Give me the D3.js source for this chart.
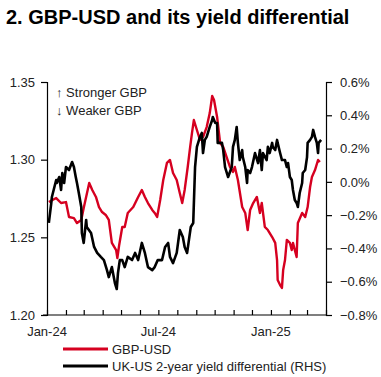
<!DOCTYPE html>
<html><head><meta charset="utf-8">
<script src="https://cdn.jsdelivr.net/npm/d3@7"></script>
<style>body{margin:0;background:#fff}svg{display:block;font-family:"Liberation Sans",Arial,sans-serif}</style>
</head><body><svg id="c" width="381" height="377"></svg>
<script>
const title = "2. GBP-USD and its yield differential";
const leftTicks = [1.20, 1.25, 1.30, 1.35];
const rightTicks = [-0.8, -0.6, -0.4, -0.2, 0.0, 0.2, 0.4, 0.6];
const xLabels = [["2024-01-01","Jan-24"],["2024-07-01","Jul-24"],["2025-01-01","Jan-25"]];
const seriesNames = ["GBP-USD", "UK-US 2-year yield differential (RHS)"];

const gbpDates = ["2024-01-04","2024-01-16","2024-01-24","2024-02-01","2024-02-06","2024-02-14","2024-02-19","2024-02-26","2024-03-01","2024-03-10","2024-03-15","2024-03-21","2024-03-26","2024-03-31","2024-04-06","2024-04-11","2024-04-16","2024-04-23","2024-04-25","2024-04-28","2024-05-03","2024-05-07","2024-05-12","2024-05-21","2024-05-29","2024-06-04","2024-06-09","2024-06-14","2024-06-21","2024-06-25","2024-06-29","2024-07-04","2024-07-09","2024-07-15","2024-07-20","2024-07-25","2024-07-31","2024-08-05","2024-08-09","2024-08-13","2024-08-18","2024-08-22","2024-08-25","2024-08-28","2024-09-02","2024-09-07","2024-09-12","2024-09-18","2024-09-23","2024-09-27","2024-09-30","2024-10-05","2024-10-10","2024-10-15","2024-10-21","2024-10-26","2024-10-31","2024-11-03","2024-11-08","2024-11-15","2024-11-20","2024-11-24","2024-11-28","2024-12-03","2024-12-09","2024-12-14","2024-12-17","2024-12-22","2024-12-27","2025-01-03","2025-01-08","2025-01-11","2025-01-12","2025-01-16","2025-01-19","2025-01-21","2025-01-24","2025-01-27","2025-02-01","2025-02-04","2025-02-06","2025-02-12","2025-02-14","2025-02-21","2025-02-26","2025-03-02","2025-03-06","2025-03-09","2025-03-14","2025-03-19","2025-03-22"];
const gbpValues = [1.2727,1.2753,1.2721,1.2727,1.2631,1.2624,1.2592,1.2612,1.2689,1.2850,1.2805,1.2760,1.2695,1.2663,1.2644,1.2612,1.2464,1.2418,1.2367,1.2451,1.2567,1.2567,1.2657,1.2695,1.2760,1.2805,1.2760,1.2721,1.2676,1.2657,1.2631,1.2740,1.2869,1.2979,1.2998,1.2914,1.2869,1.2785,1.2721,1.2805,1.2953,1.3082,1.3172,1.3255,1.3191,1.3127,1.3146,1.3210,1.3300,1.3410,1.3384,1.3275,1.3107,1.3082,1.3011,1.2953,1.2921,1.2953,1.2869,1.2695,1.2657,1.2547,1.2676,1.2721,1.2760,1.2657,1.2721,1.2567,1.2547,1.2502,1.2464,1.2354,1.2225,1.2193,1.2174,1.2290,1.2354,1.2483,1.2464,1.2418,1.2464,1.2373,1.2592,1.2657,1.2631,1.2695,1.2824,1.2888,1.2933,1.2998,1.2985];

const ydDates = ["2024-01-04","2024-01-08","2024-01-09","2024-01-16","2024-01-17","2024-01-21","2024-01-24","2024-01-26","2024-01-29","2024-02-01","2024-02-06","2024-02-11","2024-02-14","2024-02-17","2024-02-19","2024-02-22","2024-02-26","2024-02-27","2024-03-01","2024-03-05","2024-03-06","2024-03-13","2024-03-18","2024-03-23","2024-03-29","2024-04-03","2024-04-08","2024-04-11","2024-04-16","2024-04-21","2024-04-24","2024-04-26","2024-04-29","2024-05-03","2024-05-07","2024-05-12","2024-05-19","2024-05-24","2024-05-29","2024-06-04","2024-06-09","2024-06-14","2024-06-21","2024-06-25","2024-06-30","2024-07-07","2024-07-12","2024-07-17","2024-07-20","2024-07-25","2024-07-31","2024-08-05","2024-08-10","2024-08-13","2024-08-17","2024-08-20","2024-08-23","2024-08-27","2024-08-30","2024-09-02","2024-09-04","2024-09-07","2024-09-10","2024-09-12","2024-09-15","2024-09-18","2024-09-20","2024-09-23","2024-09-27","2024-09-28","2024-10-02","2024-10-05","2024-10-06","2024-10-13","2024-10-15","2024-10-18","2024-10-21","2024-10-23","2024-10-29","2024-10-31","2024-11-03","2024-11-06","2024-11-08","2024-11-11","2024-11-15","2024-11-16","2024-11-20","2024-11-23","2024-11-24","2024-11-28","2024-12-01","2024-12-06","2024-12-11","2024-12-14","2024-12-17","2024-12-19","2024-12-25","2024-12-27","2024-12-30","2025-01-03","2025-01-04","2025-01-08","2025-01-11","2025-01-12","2025-01-16","2025-01-19","2025-01-24","2025-01-27","2025-01-29","2025-02-01","2025-02-04","2025-02-06","2025-02-09","2025-02-12","2025-02-14","2025-02-17","2025-02-21","2025-02-22","2025-02-26","2025-03-01","2025-03-02","2025-03-06","2025-03-09","2025-03-11","2025-03-14","2025-03-17","2025-03-19","2025-03-20","2025-03-24"];
const ydValues = [-0.247,-0.127,-0.091,0.011,-0.007,0.029,-0.049,0.053,-0.007,0.089,0.071,0.119,0.089,0.029,-0.007,-0.067,-0.151,-0.307,-0.367,-0.229,-0.271,-0.307,-0.391,-0.427,-0.451,-0.470,-0.530,-0.572,-0.512,-0.608,-0.644,-0.548,-0.470,-0.470,-0.512,-0.451,-0.470,-0.427,-0.470,-0.367,-0.427,-0.512,-0.530,-0.512,-0.470,-0.470,-0.391,-0.367,-0.451,-0.488,-0.427,-0.289,-0.331,-0.391,-0.427,-0.349,-0.271,-0.247,0.089,0.210,0.234,0.270,0.294,0.173,0.252,0.270,0.294,0.330,0.372,0.390,0.354,0.354,0.234,0.234,0.191,0.089,0.053,0.029,0.089,0.210,0.252,0.330,0.234,0.131,0.191,0.149,0.089,-0.007,0.071,0.053,0.089,0.173,0.113,0.191,0.071,0.173,0.131,0.210,0.173,0.234,0.210,0.191,0.252,0.234,0.173,0.131,0.131,0.089,0.113,0.029,0.011,-0.049,-0.109,-0.127,-0.151,-0.067,-0.007,0.053,0.071,0.149,0.234,0.252,0.270,0.312,0.270,0.234,0.173,0.234,0.252];

const parse = d3.timeParse("%Y-%m-%d");
const svg = d3.select("#c");
const L = 47, R = 326, T = 82, B = 315;

const x = d3.scaleTime().domain([parse("2024-01-01"), parse("2025-04-01")]).range([L, R]);
const yL = d3.scaleLinear().domain([1.20, 1.35]).range([B, T]);
const yR = d3.scaleLinear().domain([-0.8, 0.6]).range([B, T]);

// title
svg.append("text").attr("x", 6).attr("y", 24).attr("font-weight", "bold").attr("font-size", 20).attr("fill", "#000").text(title);

// left axis
const gl = svg.append("g").attr("transform", `translate(${L},0)`)
  .call(d3.axisLeft(yL).tickValues(leftTicks).tickFormat(d3.format(".2f")).tickSize(6).tickPadding(6));
// right axis
const gr = svg.append("g").attr("transform", `translate(${R},0)`)
  .call(d3.axisRight(yR).tickValues(rightTicks).tickFormat(d => d3.format(".1f")(d) + "%").tickSize(6).tickPadding(8));
// x axis with monthly inward ticks
const gx = svg.append("g").attr("transform", `translate(0,${B})`)
  .call(d3.axisBottom(x).ticks(d3.timeMonth.every(1)).tickFormat("").tickSizeInner(-5).tickSizeOuter(0));
gx.select(".domain").attr("d", `M${L-4},0H${R}`);
const xl = svg.append("g");
xLabels.forEach(([d, t]) => {
  xl.append("text").attr("x", x(parse(d))).attr("y", 336).attr("text-anchor", "middle").attr("font-size", 13).attr("fill", "#222").text(t);
});
[gl, gr, gx].forEach(g => {
  g.selectAll(".domain, line").attr("stroke", "#000").attr("stroke-width", 1.2);
  g.selectAll("text").attr("font-size", 13).attr("fill", "#222").attr("font-family", "Liberation Sans, Arial, sans-serif");
});

// annotations
svg.append("text").attr("x", 56).attr("y", 97).attr("font-size", 13).attr("fill", "#222").text("\u2191 Stronger GBP");
svg.append("text").attr("x", 56).attr("y", 115).attr("font-size", 13).attr("fill", "#222").text("\u2193 Weaker GBP");

// lines
const red = "#d60020";
const lineL = d3.line().x((d, i) => x(parse(gbpDates[i]))).y(d => yL(d));
const lineR = d3.line().x((d, i) => x(parse(ydDates[i]))).y(d => yR(d));
svg.append("path").datum(gbpValues).attr("d", lineL).attr("fill", "none").attr("stroke", red).attr("stroke-width", 2.4).attr("stroke-linejoin", "round");
svg.append("path").datum(ydValues).attr("d", lineR).attr("fill", "none").attr("stroke", "#000").attr("stroke-width", 2.6).attr("stroke-linejoin", "round");

// legend
const leg = svg.append("g");
[[red, 349, seriesNames[0]], ["#000", 366, seriesNames[1]]].forEach(([c, y, t]) => {
  leg.append("line").attr("x1", 63).attr("x2", 108).attr("y1", y).attr("y2", y).attr("stroke", c).attr("stroke-width", 3);
  leg.append("text").attr("x", 112).attr("y", y + 5).attr("font-size", 13).attr("fill", "#222").text(t);
});
</script></body></html>
